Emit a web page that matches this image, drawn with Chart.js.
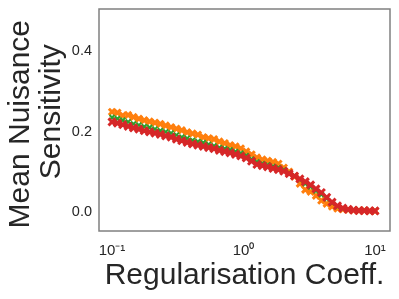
<!DOCTYPE html>
<html><head><meta charset="utf-8">
<script src="https://cdn.jsdelivr.net/npm/chart.js@4"></script>
<style>html,body{margin:0;padding:0;background:#fff}#wrap{width:399px;height:299px}</style>
</head><body><div id="wrap"><canvas id="c" width="399" height="299"></canvas></div>
<script>
const coeffs = [0.1,0.1099,0.1207,0.1326,0.1456,0.16,0.1758,0.1931,0.2121,0.233,0.256,0.2812,0.3089,0.3393,0.3728,0.4095,0.4498,0.4942,0.5429,0.5964,0.6551,0.7197,0.7906,0.8685,0.9541,1.0481,1.1514,1.2649,1.3895,1.5264,1.6768,1.8421,2.0236,2.223,2.4421,2.6827,2.9471,3.2375,3.5565,3.9069,4.2919,4.7149,5.1795,5.6899,6.2506,6.8665,7.5431,8.2864,9.103,10.0];
const orangeVals = [0.249,0.247,0.24,0.241,0.236,0.232,0.228,0.225,0.222,0.219,0.215,0.211,0.207,0.203,0.198,0.195,0.192,0.186,0.183,0.181,0.175,0.171,0.166,0.163,0.158,0.15,0.143,0.135,0.13,0.127,0.124,0.12,0.11,0.1,0.088,0.07,0.055,0.05,0.04,0.028,0.02,0.013,0.008,0.006,0.005,0.004,0.003,0.003,0.002,0.002];
const greenVals = [0.235,0.232,0.228,0.224,0.219,0.216,0.212,0.21,0.206,0.202,0.199,0.196,0.191,0.186,0.183,0.178,0.175,0.172,0.168,0.164,0.16,0.157,0.154,0.15,0.146,0.14,0.131,0.124,0.12,0.117,0.113,0.11,0.104,0.097,0.09,0.08,0.07,0.062,0.052,0.043,0.033,0.022,0.013,0.008,0.005,0.004,0.003,0.003,0.002,0.002];
const redVals = [0.224,0.221,0.217,0.213,0.209,0.206,0.202,0.199,0.196,0.193,0.189,0.186,0.181,0.177,0.173,0.169,0.166,0.163,0.16,0.157,0.153,0.15,0.147,0.143,0.139,0.134,0.126,0.118,0.115,0.112,0.108,0.105,0.101,0.095,0.089,0.082,0.075,0.067,0.057,0.048,0.036,0.024,0.015,0.009,0.006,0.004,0.003,0.003,0.002,0.002];
const xTickVals = [0.1, 1, 10];
const xTickLabels = ['10\u207B\u00B9', '10\u2070', '10\u00B9'];
const yTickVals = [0.0, 0.2, 0.4];
const xTitle = 'Regularisation Coeff.';
const yTitle = ['Mean Nuisance ', '  Sensitivity'];

const txt = '#262626';
function ds(vals, color, order, r, bw, lw) {
  return {
    data: coeffs.map((x, i) => ({x: x, y: vals[i]})),
    borderColor: color, backgroundColor: color,
    pointStyle: 'crossRot', pointRadius: r, pointBorderWidth: bw,
    borderWidth: lw, showLine: true, order: order
  };
}
const frame = {
  id: 'frame',
  afterDraw(chart) {
    const a = chart.chartArea, c = chart.ctx;
    c.save(); c.strokeStyle = '#808080'; c.lineWidth = 1.5;
    c.strokeRect(a.left, a.top, a.right - a.left, a.bottom - a.top);
    c.restore();
  }
};
new Chart(document.getElementById('c'), {
  type: 'scatter',
  data: { datasets: [
    ds(orangeVals, '#ff7f0e', 2, 4.5, 3, 1),
    ds(greenVals, '#2ca02c', 1, 3.5, 2, 1),
    ds(redVals, '#d62728', 0, 5, 3, 2)
  ]},
  options: {
    responsive: false, animation: false,
    layout: { padding: { top: 9, right: 9, left: 0, bottom: 0 } },
    plugins: { legend: { display: false }, tooltip: { enabled: false } },
    scales: {
      x: {
        type: 'logarithmic', min: 0.0796, max: 13.0,
        grid: { display: false, drawTicks: false }, border: { display: false },
        afterBuildTicks: s => { s.ticks = xTickVals.map(v => ({ value: v })); },
        afterFit: s => { s.height = 68; s.paddingLeft = 0; s.paddingRight = 0; },
        ticks: { color: txt, font: { family: 'Liberation Sans', size: 15 }, padding: 11,
          maxRotation: 0, autoSkip: false,
          callback: (v) => { const k = xTickVals.indexOf(v); return k >= 0 ? xTickLabels[k] : ''; } },
        title: { display: true, text: xTitle, color: txt, font: { family: 'Liberation Sans', size: 30 }, padding: { top: 0, bottom: 5 } }
      },
      y: {
        min: -0.048, max: 0.5055,
        grid: { display: false, drawTicks: false }, border: { display: false },
        afterBuildTicks: s => { s.ticks = yTickVals.map(v => ({ value: v })); },
        afterFit: s => { s.width = 99; s.paddingTop = 0; s.paddingBottom = 0; },
        ticks: { color: txt, font: { family: 'Liberation Sans', size: 14.5 }, padding: 7,
          callback: v => v.toFixed(1) },
        title: { display: true, text: yTitle, color: txt, font: { family: 'Liberation Sans', size: 30, lineHeight: 1.03 }, padding: { top: 5, bottom: 0 } }
      }
    }
  },
  plugins: [frame]
});
</script></body></html>
